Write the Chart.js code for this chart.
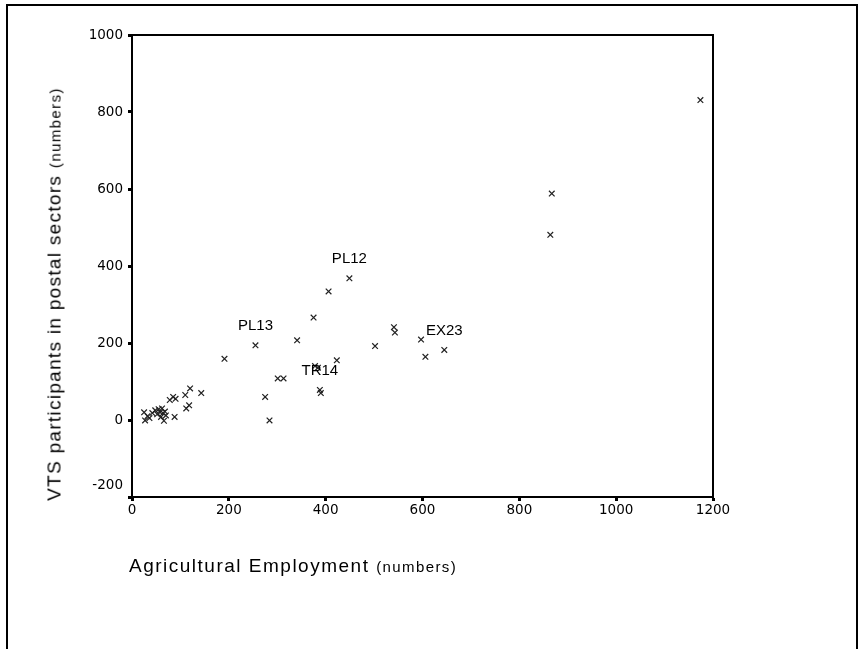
<!DOCTYPE html>
<html>
<head>
<meta charset="utf-8">
<script src="https://cdn.jsdelivr.net/npm/chart.js@4/dist/chart.umd.min.js"></script>
<style>
html, body { margin: 0; padding: 0; background: #fff; }
#wrap { position: relative; width: 863px; height: 649px; overflow: hidden; }
#frame { position: absolute; left: 6px; top: 4px; width: 848px; height: 680px; border: 2px solid #000; }
#chart { position: absolute; left: 0; top: 0; }
.title { position: absolute; font-family: "Liberation Sans", Arial, sans-serif; color: #000; white-space: nowrap; letter-spacing: 1.3px; font-size: 19px; line-height: 22px; }
.title .small { font-size: 15px; letter-spacing: 1.4px; }
#xtitle { left: 129px; top: 555px; letter-spacing: 1.5px; }
#ytitle { left: 55px; top: 294px; transform: translate(-50%, -50%) rotate(-90deg); }
</style>
</head>
<body>
<div id="wrap">
	<div id="frame"></div>
	<canvas id="chart" width="863" height="649"></canvas>
	<div class="title" id="xtitle">Agricultural Employment <span class="small">(numbers)</span></div>
	<div class="title" id="ytitle">VTS participants in postal sectors <span class="small">(numbers)</span></div>
</div>
<script>
// Agricultural employment (x) against VTS participants (y)
var agriEmployment = [
	25, 27, 32, 36, 42, 48, 52, 55, 58, 60, 62, 64, 66, 68, 70, 78, 85, 90, 88, 110, 112, 118, 120, 143,
	191, 255, 275, 284, 301, 313, 341, 375, 378, 384, 388, 390, 406, 423, 449,
	502, 541, 543, 597, 606, 645, 864, 867, 1174
];
var vtsParticipants = [
	20, -1, 10, 5, 18, 25, 15, 28, 20, 8, 30, 18, -2, 22, 12, 52, 60, 55, 8, 65, 30, 38, 82, 70,
	159, 194, 60, -1, 108, 108, 207, 266, 140, 136, 78, 70, 334, 155, 368,
	192, 241, 227, 209, 164, 182, 481, 588, 831
];
var pointNames = [
	'', '', '', '', '', '', '', '', '', '', '', '', '', '', '', '', '', '', '', '', '', '', '', '',
	'', 'PL13', '', '', '', '', '', '', '', '', 'TR14', '', '', '', 'PL12',
	'', '', '', '', '', 'EX23', '', '', ''
];
var xTicks = [0, 200, 400, 600, 800, 1000, 1200];
var yTicks = [-200, 0, 200, 400, 600, 800, 1000];

var points = agriEmployment.map(function(x, i) {
	return { x: x, y: vtsParticipants[i] };
});

// box lines on top and right of the plot
var plotBox = {
	id: 'plotBox',
	afterDraw: function(chart) {
		var a = chart.chartArea, ctx = chart.ctx;
		ctx.save();
		ctx.strokeStyle = '#000';
		ctx.lineWidth = 2;
		ctx.beginPath();
		ctx.moveTo(a.left, a.top);
		ctx.lineTo(a.right, a.top);
		ctx.lineTo(a.right, a.bottom);
		ctx.stroke();
		ctx.restore();
	}
};

// case labels above some points
var caseLabels = {
	id: 'caseLabels',
	afterDatasetsDraw: function(chart) {
		var meta = chart.getDatasetMeta(0), ctx = chart.ctx;
		ctx.save();
		ctx.fillStyle = '#000';
		ctx.font = '15px "Liberation Sans", Arial, sans-serif';
		ctx.textAlign = 'center';
		ctx.textBaseline = 'middle';
		pointNames.forEach(function(name, i) {
			if (!name) return;
			var p = meta.data[i];
			ctx.fillText(name, p.x, p.y - 19);
		});
		ctx.restore();
	}
};

window.onload = function() {
	var ctx = document.getElementById('chart').getContext('2d');
	window.myScatter = new Chart(ctx, {
		type: 'scatter',
		data: {
			datasets: [{
				data: points,
				pointStyle: 'crossRot',
				pointRadius: 4,
				pointBorderWidth: 1.2,
				borderColor: '#222',
				backgroundColor: '#222'
			}]
		},
		options: {
			responsive: false,
			animation: false,
			layout: { padding: { left: 72, right: 150, top: 35, bottom: 122 } },
			plugins: {
				legend: { display: false },
				tooltip: { enabled: false }
			},
			scales: {
				x: {
					type: 'linear',
					min: 0,
					max: 1200,
					afterBuildTicks: function(s) { s.ticks = xTicks.map(function(v) { return { value: v }; }); },
					afterFit: function(s) { s.height = 30; },
					ticks: {
						color: '#000',
						padding: 1,
						maxRotation: 0,
						font: { family: 'DejaVu Sans', size: 13.5 },
						callback: function(v) { return String(v); }
					},
					grid: { drawOnChartArea: false, drawTicks: true, tickLength: 4, tickWidth: 3, color: '#000' },
					border: { display: true, color: '#000', width: 2 }
				},
				y: {
					type: 'linear',
					min: -200,
					max: 1000,
					afterBuildTicks: function(s) { s.ticks = yTicks.map(function(v) { return { value: v }; }); },
					afterFit: function(s) { s.width = 60; },
					ticks: {
						color: '#000',
						padding: 5,
						font: { family: 'DejaVu Sans', size: 13.5, lineHeight: 1.7 },
						callback: function(v) { return v === -200 ? ['-200', ''] : String(v); }
					},
					grid: { drawOnChartArea: false, drawTicks: true, tickLength: 4, tickWidth: 3, color: '#000' },
					border: { display: true, color: '#000', width: 2 }
				}
			}
		},
		plugins: [plotBox, caseLabels]
	});
};
</script>
</body>
</html>
